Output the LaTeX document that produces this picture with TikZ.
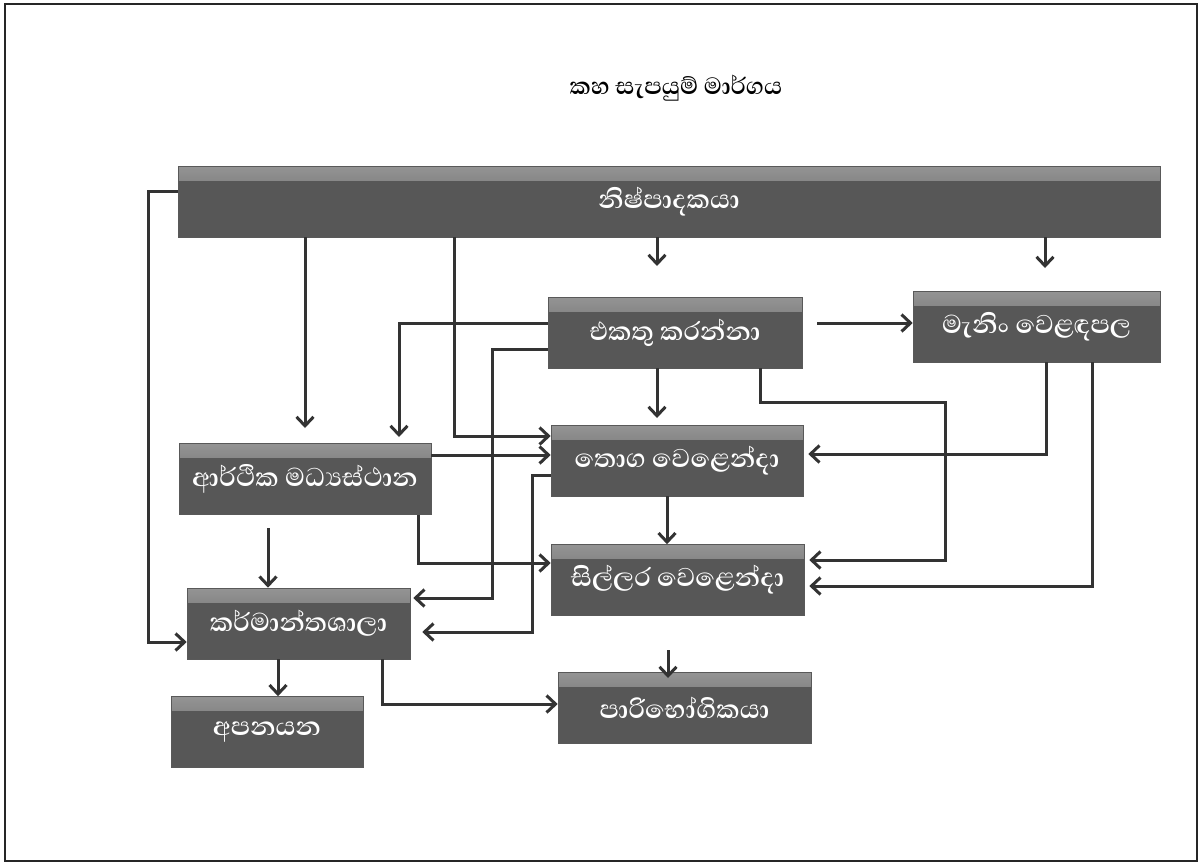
\documentclass[tikz,border=0pt]{standalone}
\usepackage{fontspec}
\newfontfamily\sinhalafont[Script=Sinhala]{Abhaya Libre}
\usetikzlibrary{arrows.meta}
\begin{document}
\begin{tikzpicture}[x=1pt,y=-1pt,
  box/.style={draw=black!65, line width=0.6pt, fill=black!66, text=white,
    font=\sinhalafont\bfseries\fontsize{33}{38}\selectfont, inner sep=0pt, minimum height=71pt,
    path picture={\fill[top color=black!42, bottom color=black!66]
      (path picture bounding box.north west) rectangle ([yshift=-14pt]path picture bounding box.north east);}},
  link/.style={draw=black!80, line width=3pt, -{Straight Barb[length=9pt,width=17pt]}}
]
\useasboundingbox (0,0) rectangle (1202,865);
\fill[white] (0,0) rectangle (1202,865);
\draw[line width=1.5pt, black!85] (5,4) rectangle (1197,861);

\node[font=\sinhalafont\bfseries\fontsize{30}{34}\selectfont] (title) at (676,88) {කහ සැපයුම් මාර්ගය};

\node[box, minimum width=982pt] (prod)   at (669,201.5) {නිෂ්පාදකයා};
\node[box, minimum width=254pt] (coll)   at (675,332.5) {එකතු කරන්නා};
\node[box, minimum width=247pt] (mann)   at (1036.5,326.5) {මැනිං වෙළඳපල};
\node[box, minimum width=252pt] (econ)   at (305,479) {ආර්ථික මධ්‍යස්ථාන};
\node[box, minimum width=252pt] (whole)  at (677,460.5) {තොග වෙළෙන්දා};
\node[box, minimum width=253pt] (retail) at (677.5,580) {සිල්ලර වෙළෙන්දා};
\node[box, minimum width=223pt] (fact)   at (298.5,623.5) {කර්මාන්තශාලා};
\node[box, minimum width=192pt] (exp)    at (267,732) {අපනයන};
\node[box, minimum width=253pt] (cons)   at (684.5,708) {පාරිභෝගිකයා};

% producer
\coordinate (c1) at (657,266);
\draw[link] (prod.south -| c1) -- (c1);
\coordinate (c2) at (1045,268);
\draw[link] (prod.south -| c2) -- (c2);
\coordinate (c3) at (305,428);
\draw[link] (prod.south -| c3) -- (c3);
\coordinate (c4) at (454,436);
\draw[link] (prod.south -| c4) -- (c4) -- (c4 -| whole.west);
\coordinate (c5a) at (148,191);
\coordinate (c5b) at (148,642);
\draw[link] (c5a -| prod.west) -- (c5a) -- (c5b) -- (c5b -| fact.west);
% collector
\coordinate (c6a) at (399,323); \coordinate (c6b) at (399,437);
\draw[link] (c6a -| coll.west) -- (c6a) -- (c6b);
\coordinate (c7a) at (492,349); \coordinate (c7b) at (492,598);
\draw[link] (c7a -| coll.west) -- (c7a) -- (c7b) -- ([xshift=3pt]c7b -| fact.east);
\coordinate (c8) at (817,323);
\draw[link] (c8) -- (c8 -| mann.west);
\coordinate (c9) at (657,418);
\draw[link] (coll.south -| c9) -- (c9);
\coordinate (c10a) at (760,402); \coordinate (c10b) at (945,402); \coordinate (c10c) at (945,560);
\draw[link] (coll.south -| c10a) -- (c10a) -- (c10b) -- (c10c) -- ([xshift=5pt]c10c -| retail.east);
% manning
\coordinate (c11) at (1046,454);
\draw[link] (mann.south -| c11) -- (c11) -- ([xshift=5pt]c11 -| whole.east);
\coordinate (c12) at (1092,586);
\draw[link] (mann.south -| c12) -- (c12) -- ([xshift=5pt]c12 -| retail.east);
% economic centres
\coordinate (c13) at (431,455);
\draw[link] (c13 -| econ.east) -- (c13 -| whole.west);
\coordinate (c14) at (418,563);
\draw[link] (econ.south -| c14) -- (c14) -- (c14 -| retail.west);
\coordinate (c15) at (268,528);
\draw[link] (c15) -- (c15 |- fact.north);
% wholesaler
\coordinate (c16a) at (532,475); \coordinate (c16b) at (532,632);
\draw[link] (c16a -| whole.west) -- (c16a) -- (c16b) -- ([xshift=12pt]c16b -| fact.east);
\coordinate (c17) at (667,496);
\draw[link] (whole.south -| c17) -- (c17 |- retail.north);
% retailer
\coordinate (c18a) at (668,650); \coordinate (c18b) at (668,678);
\draw[link] (c18a) -- (c18b);
% factories
\coordinate (c19) at (278,659);
\draw[link] (fact.south -| c19) -- (c19 |- exp.north);
\coordinate (c20) at (382,704);
\draw[link] (fact.south -| c20) -- (c20) -- (c20 -| cons.west);
\end{tikzpicture}
\end{document}
